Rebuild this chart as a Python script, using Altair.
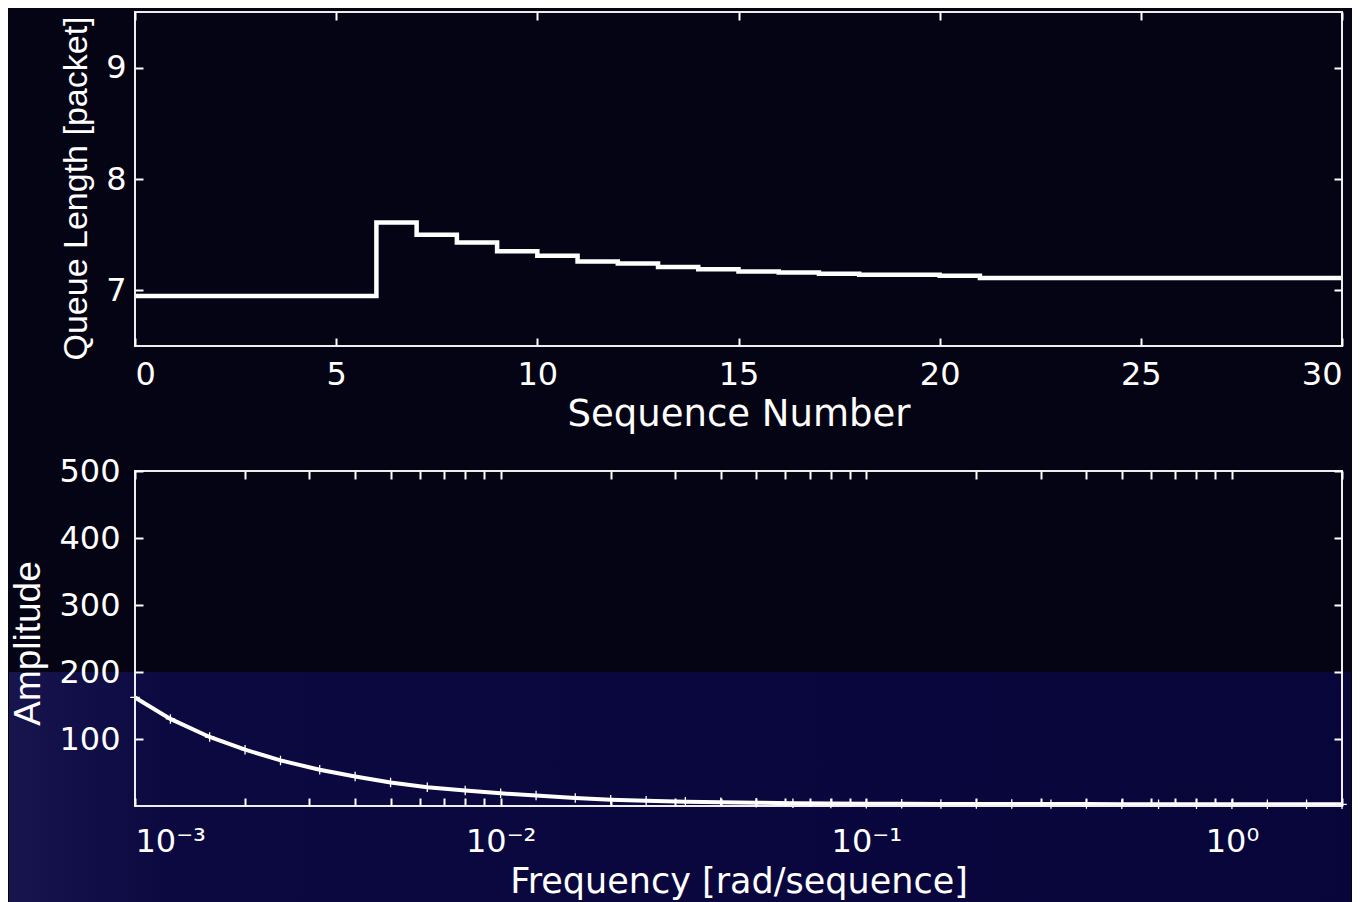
import altair as alt
import pandas as pd

# ---------------- data ----------------
seq = list(range(31))
queue = [6.95, 6.95, 6.95, 6.95, 6.95, 6.95,
         7.61, 7.50, 7.43, 7.35, 7.31, 7.26, 7.24, 7.21, 7.19, 7.17,
         7.16, 7.15, 7.14, 7.14, 7.13,
         7.11, 7.11, 7.11, 7.11, 7.11, 7.11, 7.11, 7.11, 7.11, 7.11]

freq = [0.001, 0.00125, 0.0016, 0.002, 0.0025, 0.0032, 0.004, 0.005, 0.0063, 0.008,
        0.01, 0.0125, 0.016, 0.02, 0.025, 0.032, 0.04, 0.05, 0.063, 0.08,
        0.1, 0.125, 0.16, 0.2, 0.25, 0.32, 0.4, 0.5, 0.63, 0.8,
        1.0, 1.25, 1.6, 2.0]
amp = [162, 130, 103, 84, 68, 54, 44, 35, 28, 23,
       19, 15.5, 12, 9.5, 7.8, 6.5, 5.5, 4.8, 4.2, 3.8,
       3.5, 3.3, 3.1, 3.0, 2.9, 2.8, 2.8, 2.7, 2.7, 2.6,
       2.6, 2.6, 2.5, 2.5]

top_x_ticks = [0, 5, 10, 15, 20, 25, 30]
top_y_ticks = [7, 8, 9]
bot_y_ticks = [100, 200, 300, 400, 500]
bot_x_ticks = [0.001, 0.002, 0.003, 0.004, 0.005, 0.006, 0.007, 0.008, 0.009,
               0.01, 0.02, 0.03, 0.04, 0.05, 0.06, 0.07, 0.08, 0.09,
               0.1, 0.2, 0.3, 0.4, 0.5, 0.6, 0.7, 0.8, 0.9,
               1.0, 2.0]
decade_values = [0.001, 0.01, 0.1, 1.0]
decade_labels = ["10\u207b\u00b3", "10\u207b\u00b2", "10\u207b\u00b9", "10\u2070"]

top_df = pd.DataFrame({"seq": seq, "queue": queue})
bot_df = pd.DataFrame({"freq": freq, "amp": amp})

# ---------------- style ----------------
W, H1, H2 = 1207, 334, 335
BG = "#050414"
FG = "#ffffff"
TICKFONT = "DejaVu Sans"
YTITLEFONT = "Liberation Sans"

label_expr = ""
for v, t in zip(decade_values, decade_labels):
    label_expr += f"datum.value == {v} ? '{t}' : "
label_expr += "''"


def main_axis(orient, values, title, lpad, tpad, tfont, tsize, **kw):
    return alt.Axis(orient=orient, values=values, title=title, offset=-8, tickSize=8,
                    tickWidth=2, tickColor=FG, domain=False, grid=False, zindex=1,
                    labelPadding=lpad, labelFont=TICKFONT, labelFontSize=32,
                    labelColor=FG, titlePadding=tpad, titleFont=tfont,
                    titleFontSize=tsize, titleFontWeight="normal", titleColor=FG,
                    labelOverlap=False, **kw)


def tick_axis(orient, values):
    return alt.Axis(orient=orient, values=values, title=None, labels=False, offset=-8,
                    tickSize=8, tickWidth=2, tickColor=FG, domain=False, grid=False,
                    zindex=1)


one = alt.Data(values=[{}])

# ---------------- top panel ----------------
xs_t = alt.Scale(domain=[0, 30], nice=False, zero=False)
ys_t = alt.Scale(domain=[6.5, 9.5], nice=False, zero=False)

top_line = alt.Chart(top_df).mark_line(
    interpolate="step-after", color=FG, strokeWidth=4.5
).encode(
    x=alt.X("seq:Q", scale=xs_t,
            axis=main_axis("bottom", top_x_ticks, "Sequence Number", 13, 6,
                           TICKFONT, 37)),
    y=alt.Y("queue:Q", scale=ys_t,
            axis=main_axis("left", top_y_ticks, "Queue Length [packet]", 9, 12,
                           YTITLEFONT, 34, titleY=176)),
)
top_ghost = alt.Chart(top_df).mark_line(opacity=0).encode(
    x=alt.X("seq:Q", scale=xs_t, axis=tick_axis("top", top_x_ticks)),
    y=alt.Y("queue:Q", scale=ys_t, axis=tick_axis("right", top_y_ticks)),
)
top_box = alt.Chart(one).mark_rect(fillOpacity=0, stroke="#eeeeee", strokeWidth=2).encode(
    x=alt.value(0), x2=alt.value(W), y=alt.value(0), y2=alt.value(H1)
)
top = alt.layer(top_line, top_ghost, top_box).resolve_scale(
    x="independent", y="independent"
).resolve_axis(x="independent", y="independent").properties(width=W, height=H1)

# ---------------- bottom panel ----------------
xs_b = alt.Scale(type="log", domain=[0.001, 2.0], nice=False)
ys_b = alt.Scale(domain=[0, 500], nice=False, zero=False)

band = alt.Chart(one).mark_rect(
    fill=alt.Gradient(
        gradient="linear", x1=0, x2=1, y1=0, y2=0,
        stops=[alt.GradientStop(color="#17144e", offset=0),
               alt.GradientStop(color="#0b0940", offset=0.12),
               alt.GradientStop(color="#07053a", offset=1)],
    )
).encode(x=alt.value(-126), x2=alt.value(1216), y=alt.value(201), y2=alt.value(432))

bot_line = alt.Chart(bot_df).mark_line(
    color=FG, strokeWidth=4,
    point=alt.OverlayMarkDef(shape="M-1,0L1,0M0,-1L0,1", size=90, filled=False,
                             stroke=FG, strokeWidth=1.3),
).encode(
    x=alt.X("freq:Q", scale=xs_b,
            axis=main_axis("bottom", bot_x_ticks, "Frequency [rad/sequence]", 20, 7,
                           TICKFONT, 35, labelExpr=label_expr)),
    y=alt.Y("amp:Q", scale=ys_b,
            axis=main_axis("left", bot_y_ticks, "Amplitude", 15, 11,
                           YTITLEFONT, 37, titleY=172)),
)
bot_ghost = alt.Chart(bot_df).mark_line(opacity=0).encode(
    x=alt.X("freq:Q", scale=xs_b, axis=tick_axis("top", bot_x_ticks)),
    y=alt.Y("amp:Q", scale=ys_b, axis=tick_axis("right", bot_y_ticks)),
)
bot_box = alt.Chart(one).mark_rect(fillOpacity=0, stroke="#eeeeee", strokeWidth=2).encode(
    x=alt.value(0), x2=alt.value(W), y=alt.value(0), y2=alt.value(H2)
)
bottom = alt.layer(band, bot_line, bot_ghost, bot_box).resolve_scale(
    x="independent", y="independent"
).resolve_axis(x="independent", y="independent").properties(width=W, height=H2)

chart = alt.vconcat(top, bottom, spacing=125, bounds="flush").properties(
    background=BG,
    padding={"left": 0, "top": 2, "right": 0, "bottom": 0},
).configure_view(stroke="transparent")

chart.save("out.html", embed_options={"renderer": "svg", "actions": False})
